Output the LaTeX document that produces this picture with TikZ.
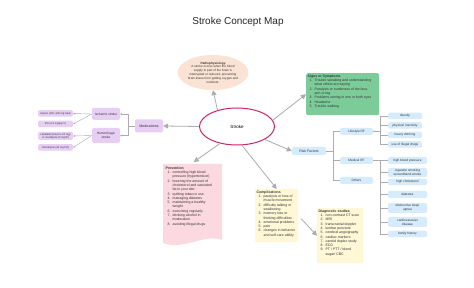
\documentclass[tikz,border=0pt]{standalone}
\usepackage{fontspec}
\setmainfont{Liberation Sans}
\usepackage{xcolor}
\usepackage{tikz}
\usetikzlibrary{arrows.meta,shapes.geometric}

\newcommand{\listfs}{\fontsize{3.5}{4.3}\selectfont}
\newcommand{\leaffs}{\fontsize{3.2}{3.8}\selectfont}
\newcommand{\drugfs}{\fontsize{2.6}{3.1}\selectfont}

\begin{document}
\begin{tikzpicture}[x=1pt,y=-1pt,
  conn/.style={draw=cline,line width=0.8pt,-{Triangle[length=5pt,width=5pt]}},
  tree/.style={draw=cline,line width=0.5pt},
  twig/.style={draw=cline,line width=0.4pt,-{Stealth[length=2pt,width=2pt]}},
  medbox/.style={fill=cmed,rounded corners=1.5pt,font=\leaffs,align=center,inner sep=0.5pt,text=black!80},
  rfbox/.style={fill=crf,rounded corners=2pt,font=\leaffs,align=center,inner sep=0.5pt,text=black!80},
  listbox/.style={anchor=north west,inner sep=1.5pt,font=\listfs,text=black!80}]
\definecolor{cline}{RGB}{172,172,172}
\definecolor{cstroke}{RGB}{198,38,108}
\definecolor{cpatho}{RGB}{250,226,212}
\definecolor{csigns}{RGB}{124,204,154}
\definecolor{cmed}{RGB}{230,206,245}
\definecolor{crf}{RGB}{214,236,252}
\definecolor{cprev}{RGB}{252,217,224}
\definecolor{cyel}{RGB}{255,247,214}
\useasboundingbox (0,0) rectangle (474,288);
\fill[white] (0,0) rectangle (474,288);
\node[font=\fontsize{10}{12}\selectfont,text=black!85] (title) at (238,22) {Stroke Concept Map};
% centre
\node[ellipse,draw=cstroke,line width=1pt,minimum width=75pt,minimum height=37pt,font=\fontsize{4.5}{5}\selectfont] (stroke) at (237,126.5) {Stroke};
\node[ellipse,fill=cpatho,minimum width=70pt,minimum height=35pt,inner sep=0pt,align=center,font=\fontsize{3.1}{3.8}\selectfont,text=black!80] (patho) at (213,72.5) {\textbf{Pathophysiology}\\A stroke occurs when the blood\\supply to part of the brain is\\interrupted or reduced, preventing\\brain tissue from getting oxygen and\\nutrients.};
\node[listbox,fill=csigns,rounded corners=2pt] (signs) at (306,73) {\parbox[t][39pt][t]{70pt}{\textbf{Signs or Symptoms}\\
\begin{tabular}[t]{@{\hspace{2pt}}r@{\hspace{2pt}}l@{}}
1. & Trouble speaking and understanding\\
 & what others are saying\\
2. & Paralysis or numbness of the face,\\
 & arm or leg\\
3. & Problems seeing in one or both eyes\\
4. & Headache\\
5. & Trouble walking
\end{tabular}}};
% medications
\node[medbox,minimum width=28pt,minimum height=13pt,font=\fontsize{3.6}{4.2}\selectfont] (meds) at (149,126) {Medications};
\node[medbox,minimum width=28pt,minimum height=12pt] (isch) at (106,114) {Ischemic stroke};
\node[medbox,minimum width=28pt,minimum height=15pt] (hemo) at (106,135.5) {Hemorrhagic\\stroke};
\node[medbox,minimum width=35pt,minimum height=6.5pt,font=\drugfs] (aspirin) at (55.5,113.5) {Aspirin (160--325 mg load)};
\node[medbox,minimum width=35pt,minimum height=6.5pt,font=\drugfs] (tpa) at (55.5,124) {tPA (0.9 mg/kg IV)};
\node[medbox,minimum width=35pt,minimum height=8pt,font=\drugfs] (labet) at (55.5,136) {Labetalol (bolus 5--20 mg)\\or nicardipine (5 mg/hr)};
\node[medbox,minimum width=35pt,minimum height=6.5pt,font=\drugfs] (nimo) at (55.5,147.5) {Nimodipine (60 mg PO)};
% risk factors
\node[rfbox,minimum width=34pt,minimum height=8pt,font=\fontsize{3.5}{4}\selectfont] (risk) at (309,151) {Risk Factors};
\node[rfbox,minimum width=33pt,minimum height=7pt] (life) at (356.5,131.5) {Lifestyle RF};
\node[rfbox,minimum width=33pt,minimum height=7pt] (medrf) at (356.5,160.5) {Medical RF};
\node[rfbox,minimum width=33pt,minimum height=7pt] (others) at (356.5,180.5) {Others};
\node[rfbox,minimum width=34pt,minimum height=6.5pt] (obese) at (405,116) {obesity};
\node[rfbox,minimum width=34pt,minimum height=6.5pt] (inact) at (405,125.5) {physical inactivity};
\node[rfbox,minimum width=34pt,minimum height=6.5pt] (drink) at (405,135) {heavy drinking};
\node[rfbox,minimum width=34pt,minimum height=6.5pt] (drugs) at (405,144.5) {use of illegal drugs};
\node[rfbox,minimum width=39pt,minimum height=7pt] (hbp) at (407.5,160.5) {high blood pressure};
\node[rfbox,minimum width=39pt,minimum height=9pt] (smoke) at (407.5,172.5) {cigarette smoking\\secondhand smoke};
\node[rfbox,minimum width=39pt,minimum height=6.5pt] (chol) at (407.5,182) {high cholesterol};
\node[rfbox,minimum width=39pt,minimum height=7pt] (diab) at (407.5,194.5) {diabetes};
\node[rfbox,minimum width=39pt,minimum height=10pt] (apnea) at (407.5,208) {obstructive sleep\\apnea};
\node[rfbox,minimum width=39pt,minimum height=10pt] (cvd) at (407.5,222) {cardiovascular\\disease};
\node[rfbox,minimum width=39pt,minimum height=6.5pt] (famhx) at (407.5,234) {family history};
% prevention, complications, diagnostics
\fill[cprev] (163,164) -- (222,164) -- (222,240) .. controls (204,233) and (184,251) .. (163,243) -- cycle;
\node[listbox] (prev) at (164,165) {\parbox[t]{56pt}{\textbf{Prevention}\\
\begin{tabular}[t]{@{\hspace{2pt}}r@{\hspace{2pt}}l@{}}
1. & controlling high blood\\
 & pressure (hypertension)\\
2. & lowering the amount of\\
 & cholesterol and saturated\\
 & fat in your diet\\
3. & quitting tobacco use\\
4. & managing diabetes\\
5. & maintaining a healthy\\
 & weight\\
6. & exercising regularly\\
7. & drinking alcohol in\\
 & moderation\\
8. & avoiding illegal drugs
\end{tabular}}};
\node[listbox,fill=cyel] (comp) at (255,189) {\parbox[t][50pt][t]{40pt}{\textbf{Complications}\\
\begin{tabular}[t]{@{\hspace{2pt}}r@{\hspace{2pt}}l@{}}
1. & paralysis or loss of\\
 & muscle movement\\
2. & difficulty talking or\\
 & swallowing\\
3. & memory loss or\\
 & thinking difficulties\\
4. & emotional problems\\
5. & pain\\
6. & changes in behavior\\
 & and self-care ability
\end{tabular}}};
\node[listbox,fill=cyel] (diag) at (317,208) {\parbox[t][52pt][t]{43pt}{\textbf{Diagnostic studies}\\
\begin{tabular}[t]{@{\hspace{2pt}}r@{\hspace{2pt}}l@{}}
1. & non-contrast CT scan\\
2. & MRI\\
3. & transcranial doppler\\
4. & lumbar puncture\\
5. & cerebral angiography\\
6. & cardiac markers\\
7. & carotid duplex study\\
8. & ECG\\
9. & PT / PTT / blood\\
 & sugar/ CBC
\end{tabular}}};
% arrows from the centre
\draw[conn] (stroke.140) -- (patho.south);
\draw[conn] (stroke.10) -- (signs.west);
\draw[conn] (stroke.west) -- (meds.east);
\draw[conn] (stroke.335) -- (risk.west);
\draw[conn] (stroke.225) -- ([yshift=3pt]prev.north);
\draw[conn] (stroke.285) -- (comp.north);
\draw[conn,shorten <=4pt] (comp.east) -- (diag.west);
% medication branches
\draw[twig] (meds.west) -- ++(-7,0) |- (isch.east);
\draw[twig] (meds.west) -- ++(-7,0) |- (hemo.east);
\draw[twig] (isch.west) -- (aspirin.east);
\draw[twig] (isch.west) -- (tpa.east);
\draw[twig] (hemo.west) -- (labet.east);
\draw[twig] (hemo.west) -- (nimo.east);
% risk factor tree
\draw[tree] (risk.east) -- ++(7,0) |- (life.west);
\draw[tree] (risk.east) -- ++(7,0) |- (medrf.west);
\draw[tree] (risk.east) -- ++(7,0) |- (others.west);
\draw[tree] (life.east) -- ++(7.5,0) |- (obese.west);
\draw[tree] (life.east) -- ++(7.5,0) |- (inact.west);
\draw[tree] (life.east) -- ++(7.5,0) |- (drink.west);
\draw[tree] (life.east) -- ++(7.5,0) |- (drugs.west);
\draw[tree] (medrf.east) -- ++(7.5,0) |- (hbp.west);
\draw[tree] (medrf.east) -- ++(7.5,0) |- (smoke.west);
\draw[tree] (medrf.east) -- ++(7.5,0) |- (chol.west);
\draw[tree] (medrf.east) -- ++(7.5,0) |- (diab.west);
\draw[tree] (medrf.east) -- ++(7.5,0) |- (apnea.west);
\draw[tree] (medrf.east) -- ++(7.5,0) |- (cvd.west);
\draw[tree] (medrf.east) -- ++(7.5,0) |- (famhx.west);
\end{tikzpicture}
\end{document}
